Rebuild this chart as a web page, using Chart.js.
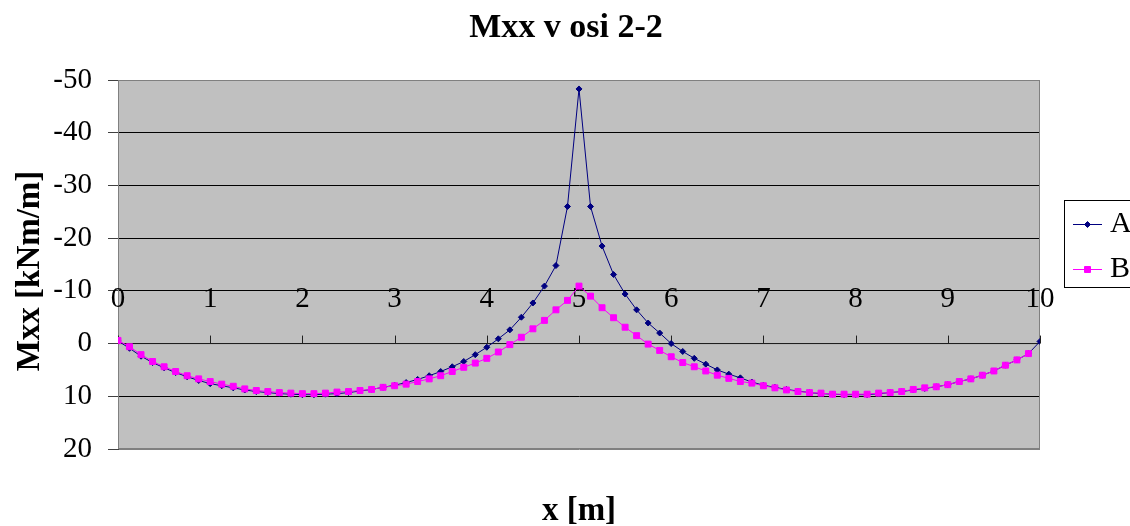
<!DOCTYPE html>
<html>
<head>
<meta charset="utf-8">
<script src="https://cdn.jsdelivr.net/npm/chart.js@4.4.0/dist/chart.umd.min.js"></script>
<style>
  body { margin: 0; background: #fff; }
  canvas { display: block; }
</style>
</head>
<body>
<canvas id="mxxChart" width="1130" height="526"></canvas>
<script>
// x positions [m]
const xs = [0, 0.125, 0.25, 0.375, 0.5, 0.625, 0.75, 0.875, 1, 1.125,
    1.25, 1.375, 1.5, 1.625, 1.75, 1.875, 2, 2.125, 2.25, 2.375,
    2.5, 2.625, 2.75, 2.875, 3, 3.125, 3.25, 3.375, 3.5, 3.625,
    3.75, 3.875, 4, 4.125, 4.25, 4.375, 4.5, 4.625, 4.75, 4.875,
    5, 5.125, 5.25, 5.375, 5.5, 5.625, 5.75, 5.875, 6, 6.125,
    6.25, 6.375, 6.5, 6.625, 6.75, 6.875, 7, 7.125, 7.25, 7.375,
    7.5, 7.625, 7.75, 7.875, 8, 8.125, 8.25, 8.375, 8.5, 8.625,
    8.75, 8.875, 9, 9.125, 9.25, 9.375, 9.5, 9.625, 9.75, 9.875, 10];

// Mxx [kNm/m], series A
const seriesA = [-0.5, 0.9, 2.4, 3.6, 4.6, 5.5, 6.3, 7.0, 7.6, 8.0,
    8.4, 8.8, 9.1, 9.3, 9.5, 9.6, 9.7, 9.7, 9.6, 9.5,
    9.3, 9.0, 8.7, 8.3, 7.9, 7.4, 6.8, 6.1, 5.3, 4.4,
    3.4, 2.1, 0.7, -0.9, -2.6, -5.0, -7.7, -10.9, -14.8, -26.0,
    -48.3, -26.0, -18.5, -13.1, -9.4, -6.4, -3.9, -2.0, 0.0, 1.5,
    2.8, 3.9, 5.0, 5.8, 6.5, 7.3, 7.9, 8.3, 8.7, 9.0,
    9.3, 9.5, 9.6, 9.7, 9.7, 9.7, 9.5, 9.3, 9.1, 8.8,
    8.5, 8.2, 7.8, 7.2, 6.7, 6.0, 5.2, 4.1, 3.1, 1.9,
    -0.4];

// Mxx [kNm/m], series B
const seriesB = [-0.6, 0.6, 2.1, 3.4, 4.4, 5.3, 6.1, 6.7, 7.2, 7.7,
    8.1, 8.6, 8.9, 9.1, 9.3, 9.4, 9.5, 9.5, 9.4, 9.2,
    9.1, 8.9, 8.7, 8.3, 8.0, 7.7, 7.2, 6.7, 6.1, 5.3,
    4.5, 3.7, 2.8, 1.6, 0.2, -1.2, -2.8, -4.4, -6.4, -8.2,
    -10.9, -9.0, -6.8, -4.9, -3.1, -1.5, 0.1, 1.3, 2.5, 3.6,
    4.4, 5.2, 6.0, 6.6, 7.2, 7.5, 8.0, 8.4, 8.8, 9.1,
    9.3, 9.4, 9.6, 9.6, 9.6, 9.6, 9.4, 9.3, 9.1, 8.7,
    8.4, 8.2, 7.8, 7.2, 6.7, 6.0, 5.2, 4.1, 3.1, 1.9,
    null];

const xTickLabels = [0, 1, 2, 3, 4, 5, 6, 7, 8, 9, 10];
const seriesNames = ['A', 'B'];

const SERIF = '"Liberation Serif", "Times New Roman", serif';
const colA = '#000080';
const colB = '#ff00ff';

// gray plot area + white page
const backgroundPlugin = {
    id: 'bg',
    beforeDraw(chart) {
        const { ctx, chartArea: a } = chart;
        ctx.save();
        ctx.fillStyle = '#ffffff';
        ctx.fillRect(0, 0, chart.width, chart.height);
        ctx.fillStyle = '#c0c0c0';
        ctx.fillRect(a.left, a.top, a.right - a.left, a.bottom - a.top);
        ctx.restore();
    }
};

// Excel style category axis sitting on the y = 0 line, labels above it
const xAxisPlugin = {
    id: 'xAxisAtZero',
    beforeDatasetsDraw(chart) {
        const { ctx, chartArea: a } = chart;
        const xS = chart.scales.x, yS = chart.scales.y;
        const y0 = yS.getPixelForValue(0);
        ctx.save();
        ctx.strokeStyle = '#808080';
        ctx.lineWidth = 1;
        ctx.strokeRect(a.left + 0.5, a.top + 0.5, a.right - a.left - 1, a.bottom - a.top - 1);

        ctx.strokeStyle = '#202020';
        ctx.beginPath();
        ctx.moveTo(a.left, y0);
        ctx.lineTo(a.right, y0);
        xTickLabels.forEach(v => {
            const px = Math.round(xS.getPixelForValue(v)) + 0.5;
            ctx.moveTo(px, y0);
            ctx.lineTo(px, y0 - 8);
        });
        ctx.stroke();

        ctx.fillStyle = '#000';
        ctx.font = '29px ' + SERIF;
        ctx.textAlign = 'center';
        ctx.textBaseline = 'middle';
        xTickLabels.forEach(v => {
            ctx.fillText(String(v), xS.getPixelForValue(v), y0 - 44);
        });
        ctx.restore();
    }
};

// titles and the boxed legend
const textPlugin = {
    id: 'texts',
    afterDraw(chart) {
        const { ctx, chartArea: a } = chart;
        ctx.save();
        ctx.fillStyle = '#000';
        ctx.textAlign = 'center';
        ctx.textBaseline = 'alphabetic';
        ctx.font = 'bold 34px ' + SERIF;
        ctx.fillText('Mxx v osi 2-2', 566, 37);

        ctx.font = 'bold 33px ' + SERIF;
        ctx.fillText('x [m]', (a.left + a.right) / 2, 520);

        ctx.save();
        ctx.translate(39, 271);
        ctx.rotate(-Math.PI / 2);
        ctx.fillText('Mxx [kNm/m]', 0, 0);
        ctx.restore();

        // legend
        ctx.fillStyle = '#fff';
        ctx.fillRect(1064, 200, 80, 87);
        ctx.strokeStyle = '#000';
        ctx.lineWidth = 1;
        ctx.strokeRect(1064.5, 200.5, 80, 87);
        const rows = [
            { y: 224, color: colA, style: 'rectRot', r: 3 },
            { y: 269, color: colB, style: 'rect', r: 4.2 }
        ];
        rows.forEach((row, i) => {
            ctx.strokeStyle = row.color;
            ctx.beginPath();
            ctx.moveTo(1073, row.y + 0.5);
            ctx.lineTo(1102, row.y + 0.5);
            ctx.stroke();
            ctx.fillStyle = row.color;
            Chart.helpers.drawPoint(ctx, { pointStyle: row.style, radius: row.r, borderWidth: 1 }, 1087.5, row.y + 0.5);
            ctx.fillStyle = '#000';
            ctx.font = '30px ' + SERIF;
            ctx.textAlign = 'left';
            ctx.textBaseline = 'middle';
            ctx.fillText(seriesNames[i], 1110, row.y);
        });
        ctx.restore();
    }
};

const ctxEl = document.getElementById('mxxChart');
new Chart(ctxEl, {
    type: 'line',
    data: {
        labels: xs,
        datasets: [{
            label: seriesNames[0],
            data: xs.map((x, i) => ({ x: x, y: seriesA[i] })),
            borderColor: colA,
            backgroundColor: colA,
            borderWidth: 1,
            pointStyle: 'rectRot',
            pointRadius: 3,
            pointBorderWidth: 1,
            tension: 0,
            order: 1
        }, {
            label: seriesNames[1],
            data: xs.map((x, i) => ({ x: x, y: seriesB[i] })),
            borderColor: colB,
            backgroundColor: colB,
            borderWidth: 1,
            pointStyle: 'rect',
            pointRadius: 4.2,
            pointBorderWidth: 1,
            tension: 0,
            order: 0
        }]
    },
    options: {
        responsive: false,
        animation: false,
        events: [],
        layout: { padding: { top: 80, bottom: 77, left: 0, right: 90 } },
        plugins: {
            legend: { display: false },
            title: { display: false },
            tooltip: { enabled: false }
        },
        scales: {
            x: {
                type: 'linear',
                min: 0,
                max: 10,
                display: false
            },
            y: {
                min: -50,
                max: 20,
                reverse: true,
                afterFit(scale) { scale.width = 118; },
                ticks: {
                    stepSize: 10,
                    padding: 16,
                    color: '#000',
                    font: { family: SERIF, size: 29 }
                },
                grid: {
                    color: c => (c.tick && (c.tick.value === -50 || c.tick.value === 20)) ? '#808080' : '#000000',
                    lineWidth: 1,
                    tickLength: 10,
                    tickColor: '#404040'
                },
                border: { color: '#404040', width: 1 }
            }
        }
    },
    plugins: [backgroundPlugin, xAxisPlugin, textPlugin]
});
</script>
</body>
</html>
